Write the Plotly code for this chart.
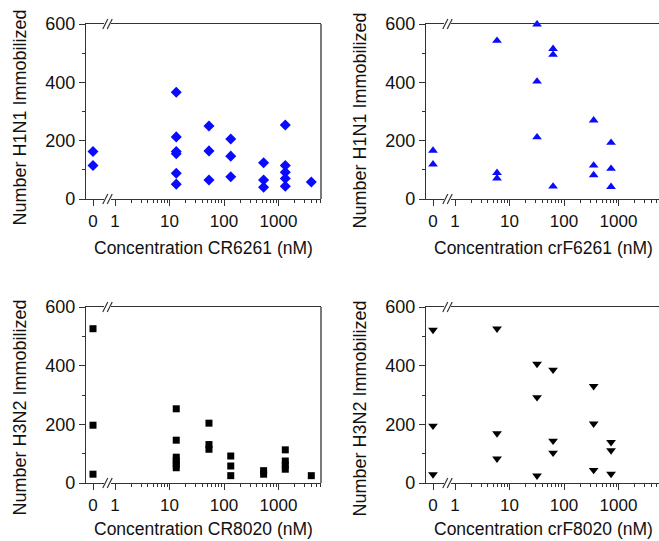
import plotly.graph_objects as go

W, H = 659, 541

# ---------------- data ----------------
cr6261_x = [0, 0, 13.3, 13.3, 13.3, 13.3, 13.3, 13.3, 53, 53, 53, 133, 133, 133,
            533, 533, 533, 1333, 1333, 1333, 1333, 1333, 4000]
cr6261_y = [163, 115, 366, 213, 163, 155, 88, 51, 250, 165, 65, 206, 147, 76,
            124, 65, 40, 254, 115, 92, 70, 44, 58]

crf6261_x = [0, 0, 5.9, 5.9, 5.9, 32, 32, 32, 63, 63, 63, 350, 350, 350, 730, 730, 730]
crf6261_y = [166, 119, 543, 90, 71, 599, 403, 212, 515, 495, 43, 270, 115, 82, 193, 104, 42]

cr8020_x = [0, 0, 0, 13.3, 13.3, 13.3, 13.3, 13.3, 13.3, 53, 53, 53, 133, 133, 133,
            533, 533, 1333, 1333, 1333, 1333, 4000]
cr8020_y = [526, 197, 30, 253, 146, 88, 76, 64, 52, 204, 131, 115, 92, 58, 25,
            42, 30, 113, 75, 61, 47, 25]

crf8020_x = [0, 0, 0, 5.9, 5.9, 5.9, 32, 32, 32, 63, 63, 63, 350, 350, 350, 730, 730, 730]
crf8020_y = [522, 195, 29, 526, 169, 83, 406, 292, 25, 386, 144, 103, 330, 202, 44, 139, 111, 31]

y_tickvals = [0, 200, 400, 600]
x_log_tickvals = [1, 10, 100, 1000]
x_log_ticktext = ["1", "10", "100", "1000"]
x_minor_vals = [m * d for d in (1, 10, 100, 1000) for m in range(2, 10)]

FONT = "Liberation Sans, Arial, sans-serif"
TXT = "#111111"
AX = "#333333"


def pxx(x):
    return x / W


def pxy(y):
    return 1 - y / H


panels = [
    dict(x=cr6261_x, y=cr6261_y, symbol="diamond", color="#0a0aff", size=8.5,
         left=86, right=321, top=24, bottom=199, border=True,
         ytitle="Number H1N1 Immobilized", xtitle="Concentration CR6261 (nM)",
         ytx=19.5, yty=118, xtx=203, xty=248),
    dict(x=crf6261_x, y=crf6261_y, symbol="triangle-up", color="#0a0aff", size=8.5,
         left=426, right=659, top=24, bottom=199, border=False,
         ytitle="Number H1N1 Immobilized", xtitle="Concentration crF6261 (nM)",
         ytx=359.5, yty=120, xtx=543, xty=248),
    dict(x=cr8020_x, y=cr8020_y, symbol="square", color="#000000", size=7,
         left=86, right=321, top=307, bottom=483, border=True,
         ytitle="Number H3N2 Immobilized", xtitle="Concentration CR8020 (nM)",
         ytx=19.5, yty=408, xtx=203, xty=529),
    dict(x=crf8020_x, y=crf8020_y, symbol="triangle-down", color="#000000", size=8.5,
         left=426, right=659, top=307, bottom=483, border=False,
         ytitle="Number H3N2 Immobilized", xtitle="Concentration crF8020 (nM)",
         ytx=359.5, yty=408, xtx=543, xty=529),
]

DECADE = 54.5  # px per decade
fig = go.Figure()
layout = {}
shapes = []
annotations = []

for i, p in enumerate(panels):
    zi, li, yi = 2 * i + 1, 2 * i + 2, i + 1
    zname = "xaxis" if zi == 1 else f"xaxis{zi}"
    lname = f"xaxis{li}"
    yname = "yaxis" if yi == 1 else f"yaxis{yi}"
    zref = "x" if zi == 1 else f"x{zi}"
    lref = f"x{li}"
    yref = "y" if yi == 1 else f"y{yi}"

    L, R, T, B = p["left"], p["right"], p["top"], p["bottom"]
    zdom = [pxx(L), pxx(L + 18)]
    ldom = [pxx(L + 25), min(1.0, pxx(R))]
    one_px = L + 29
    lrange = [(L + 25 - one_px) / DECADE, (R - one_px) / DECADE]
    ydom = [pxy(B), pxy(T)]

    x0v = [x for x, y in zip(p["x"], p["y"]) if x == 0]
    y0v = [y for x, y in zip(p["x"], p["y"]) if x == 0]
    xlv = [x for x, y in zip(p["x"], p["y"]) if x > 0]
    ylv = [y for x, y in zip(p["x"], p["y"]) if x > 0]

    mk = dict(symbol=p["symbol"], color=p["color"], size=p["size"], line=dict(width=0))
    fig.add_trace(go.Scatter(x=x0v, y=y0v, mode="markers", marker=mk, xaxis=zref, yaxis=yref,
                             cliponaxis=False, showlegend=False, hoverinfo="x+y"))
    fig.add_trace(go.Scatter(x=xlv, y=ylv, mode="markers", marker=mk, xaxis=lref, yaxis=yref,
                             cliponaxis=False, showlegend=False, hoverinfo="x+y"))

    common = dict(showline=True, linecolor=AX, linewidth=1.3, mirror=True, showgrid=False,
                  zeroline=False, ticks="outside", ticklen=6, tickwidth=1.2, tickcolor=AX,
                  tickfont=dict(family=FONT, size=17, color=TXT), fixedrange=True,
                  automargin=False)
    layout[zname] = dict(common, domain=zdom, range=[-0.7, 1.1], anchor=yref,
                         tickmode="array", tickvals=[0], ticktext=["0"])
    layout[lname] = dict(common, domain=ldom, type="log", range=lrange, anchor=yref,
                         tickmode="array", tickvals=x_log_tickvals, ticktext=x_log_ticktext,
                         minor=dict(tickmode="array", tickvals=x_minor_vals, ticks="outside",
                                    ticklen=3, tickwidth=1.1, tickcolor=AX, showgrid=False))
    layout[yname] = dict(showline=True, linecolor=AX, linewidth=1.3, mirror=False, showgrid=False,
                         zeroline=False, ticks="outside", ticklen=6, tickwidth=1.2, tickcolor=AX,
                         tickfont=dict(family=FONT, size=18, color=TXT),
                         domain=ydom, range=[0, 600], anchor=zref,
                         tickmode="array", tickvals=y_tickvals,
                         minor=dict(tickmode="array", tickvals=[100, 300, 500], ticks="outside",
                                    ticklen=3, tickwidth=1.1, tickcolor=AX, showgrid=False),
                         fixedrange=True, automargin=False)

    if p["border"]:
        shapes.append(dict(type="line", xref=f"{lref} domain", yref=f"{yref} domain",
                           x0=1, x1=1, y0=0, y1=1, line=dict(color=AX, width=1.3)))

    cx = L + 21.5
    for yy in (B, T):
        for off in (-2.2, 2.2):
            shapes.append(dict(type="line", xref="paper", yref="paper",
                               x0=pxx(cx + off - 2.5), y0=pxy(yy + 5),
                               x1=pxx(cx + off + 2.5), y1=pxy(yy - 5),
                               line=dict(color=AX, width=1.2)))

    annotations.append(dict(text=p["ytitle"], xref="paper", yref="paper",
                            x=pxx(p["ytx"]), y=pxy(p["yty"]), textangle=-90,
                            showarrow=False, xanchor="center", yanchor="middle",
                            font=dict(family=FONT, size=18, color=TXT)))
    annotations.append(dict(text=p["xtitle"], xref="paper", yref="paper",
                            x=pxx(p["xtx"]), y=pxy(p["xty"]),
                            showarrow=False, xanchor="center", yanchor="middle",
                            font=dict(family=FONT, size=17.5, color=TXT)))

fig.update_layout(
    width=W, height=H,
    margin=dict(l=0, r=0, t=0, b=0, pad=0, autoexpand=False),
    paper_bgcolor="white", plot_bgcolor="white",
    showlegend=False,
    shapes=shapes, annotations=annotations,
    **layout,
)

fig.write_html("out.html", config={"displayModeBar": False},
               post_script="document.body.style.margin='0';document.body.style.overflow='hidden';")
